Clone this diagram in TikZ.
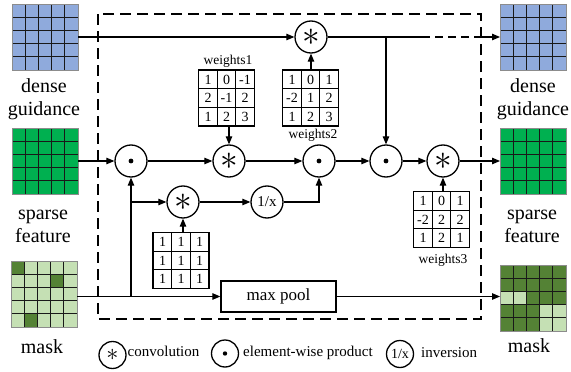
\documentclass[tikz,border=0pt]{standalone}
\usepackage{fontspec}
\setmainfont{Liberation Serif}
\usetikzlibrary{arrows.meta,calc,matrix}

\definecolor{guideblue}{HTML}{8FAADC}
\definecolor{featgreen}{HTML}{00B050}
\definecolor{masklight}{HTML}{C5E0B4}
\definecolor{maskdark}{HTML}{548235}

\newcommand\convsym[1]{\scalebox{#1}{$\ast$}}

\tikzset{
  fmap/.style={rectangle, minimum size=66pt, inner sep=0pt, outer sep=0pt},
  cellline/.style={line width=0.8pt, black!90},
  fmapedge/.style={line width=0.8pt, black!45},
  bigtext/.style={align=center, inner sep=0pt, font=\fontsize{20}{23}\selectfont},
  op/.style={circle, draw, line width=1.3pt, minimum size=32pt, inner sep=0pt},
  convop/.style={op, font=\fontsize{22}{22}\selectfont},
  dotop/.style={op, path picture={\fill (path picture bounding box.center) circle (2.4pt);}},
  invop/.style={op, font=\fontsize{15}{15}\selectfont},
  kmat/.style={matrix of nodes, draw, line width=1.2pt, inner sep=0pt,
    column sep=-0.6pt, row sep=-0.6pt,
    nodes={draw, line width=0.6pt, minimum size=18.5pt, inner sep=0pt,
      anchor=center, font=\fontsize{14}{14}\selectfont}},
  klabel/.style={inner sep=0pt, font=\fontsize{13.5}{13.5}\selectfont},
  conn/.style={line width=1.1pt},
  arr/.style={conn, -{Triangle[length=8pt,width=6.5pt]}},
  frame/.style={line width=1.6pt, dash pattern=on 11pt off 6pt},
  legop/.style={circle, draw, line width=1.3pt, minimum size=27pt, inner sep=0pt},
  legtext/.style={inner sep=0pt, anchor=base west, font=\fontsize{15}{15}\selectfont},
}

% inner lines and outer edge of a 5x5 feature map
\newcommand\cellgrid[1]{%
  \foreach \k in {1,...,4}{%
    \draw[cellline] ($(#1.north west)+(\k*13.2,0)$) -- ($(#1.south west)+(\k*13.2,0)$);
    \draw[cellline] ($(#1.north west)+(0,\k*13.2)$) -- ($(#1.north east)+(0,\k*13.2)$);
  }%
  \draw[fmapedge] (#1.north west) rectangle (#1.south east);}
% one cell of a map, given as row and column
\newcommand\paintcell[4]{%
  \fill[#4] ($(#1.north west)+(#3*13.2,#2*13.2)$) rectangle ++(13.2,13.2);}

\begin{document}
\begin{tikzpicture}[x=1pt,y=-1pt]
\useasboundingbox (0,0) rectangle (571,372);

% dashed block outline
\draw[frame] (98,14) rectangle (481,319);

% input maps
\node[fmap, fill=guideblue] (dgL) at (45,37) {};
\node[fmap, fill=featgreen] (sfL) at (45,161) {};
\node[fmap, fill=masklight] (mkL) at (44,294) {};
\paintcell{mkL}{0}{0}{maskdark}
\paintcell{mkL}{1}{3}{maskdark}
\paintcell{mkL}{4}{1}{maskdark}
\cellgrid{dgL}\cellgrid{sfL}\cellgrid{mkL}

% output maps
\node[fmap, fill=guideblue] (dgR) at (533,37) {};
\node[fmap, fill=featgreen] (sfR) at (533,161) {};
\node[fmap, fill=maskdark] (mkR) at (533,298) {};
\paintcell{mkR}{2}{0}{masklight}
\paintcell{mkR}{2}{1}{masklight}
\paintcell{mkR}{3}{3}{masklight}
\paintcell{mkR}{3}{4}{masklight}
\paintcell{mkR}{4}{3}{masklight}
\paintcell{mkR}{4}{4}{masklight}
\cellgrid{dgR}\cellgrid{sfR}\cellgrid{mkR}

% map captions
\node[bigtext] (tdgL) at (44,99) {dense\\guidance};
\node[bigtext] (tsfL) at (43,226) {sparse\\feature};
\node[bigtext] (tmkL) at (42,347) {mask};
\node[bigtext] (tdgR) at (533,99) {dense\\guidance};
\node[bigtext] (tsfR) at (532,226) {sparse\\feature};
\node[bigtext] (tmkR) at (529,346) {mask};

% operators
\node[convop] (c0) at (311,37) {\convsym{1.7}};
\node[dotop]  (d1) at (131,161) {};
\node[convop] (c2) at (229,161) {\convsym{1.7}};
\node[dotop]  (d3) at (319,161) {};
\node[dotop]  (d4) at (386,161) {};
\node[convop] (c5) at (443,161) {\convsym{1.7}};
\node[convop] (c6) at (183,202) {\convsym{1.7}};
\node[invop]  (inv) at (267,202) {1/x};
\node[rectangle, draw, line width=1.3pt, minimum width=115pt, minimum height=31pt,
  inner sep=0pt, font=\fontsize{17}{17}\selectfont] (mp) at (278.5,296.5) {max pool};

% kernels
\matrix[kmat] (w1) at (226.5,98) {1 & 0 & -1\\ 2 & -1 & 2\\ 1 & 2 & 3\\};
\matrix[kmat] (w2) at (310.5,98) {1 & 0 & 1\\ -2 & 1 & 2\\ 1 & 2 & 3\\};
\matrix[kmat] (w3) at (441.5,219.5) {1 & 0 & 1\\ -2 & 2 & 2\\ 1 & 2 & 1\\};
\matrix[kmat] (wo) at (181,260.5) {1 & 1 & 1\\ 1 & 1 & 1\\ 1 & 1 & 1\\};
\node[klabel] (lw1) at (228,61) {weights1};
\node[klabel] (lw2) at (313,135) {weights2};
\node[klabel] (lw3) at (443,260) {weights3};

% junction points
\coordinate (tj) at (d4 |- c0);
\coordinate (td) at (422,37);
\coordinate (te) at (481,37);
\coordinate (mj) at (d1 |- mp);
\coordinate (bj) at (d1 |- c6);

% guidance path
\draw[arr] (dgL.east) -- (c0);
\draw[conn] (c0) -- (tj) -- (td);
\draw[conn, dash pattern=on 8pt off 5pt] (td) -- (te);
\draw[arr] (te) -- (dgR.west);
\draw[arr] (tj) -- (d4);
\draw[arr] (w2.north -| c0) -- (c0);

% feature path
\draw[arr] (sfL.east) -- (d1);
\draw[arr] (d1) -- (c2);
\draw[arr] (c2) -- (d3);
\draw[arr] (d3) -- (d4);
\draw[arr] (d4) -- (c5);
\draw[arr] (c5) -- (sfR.west);
\draw[arr] (w1.south -| c2) -- (c2);
\draw[arr] (w3.north -| c5) -- (c5);

% mask path
\draw[arr] (mkL.east |- mp) -- (mp.west);
\draw[arr] (mj) -- (d1);
\draw[arr] (bj) -- (c6);
\draw[arr] (c6 |- wo.north) -- (c6);
\draw[arr] (c6) -- (inv);
\draw[arr] (inv.east) -| (d3);
\draw[arr] (mp.east) -- (mkR.west |- mp.east);

% legend
\node[legop, font=\fontsize{17}{17}\selectfont] (lc) at (112.5,355) {\convsym{1.4}};
\node[legtext] (lct) at (127.5,356.5) {convolution};
\node[legop, path picture={\fill (path picture bounding box.center) circle (2.2pt);}] (ld) at (225,353.5) {};
\node[legtext] (ldt) at (243,356) {element-wise product};
\node[legop, font=\fontsize{14}{14}\selectfont] (li) at (400,354) {1/x};
\node[legtext] (lit) at (421,357) {inversion};
\end{tikzpicture}
\end{document}
